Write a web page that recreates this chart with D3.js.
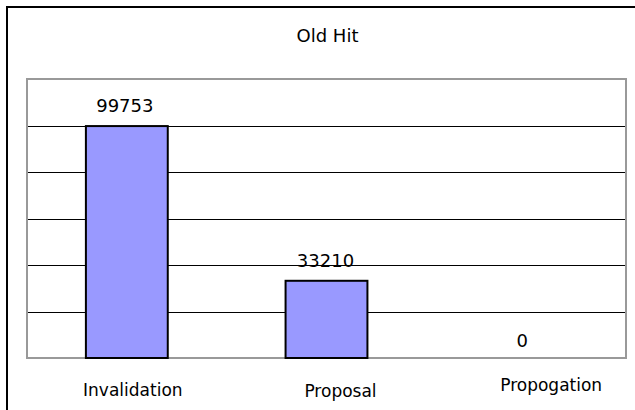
<!DOCTYPE html>
<html><head><meta charset="utf-8">
<script src="https://cdn.jsdelivr.net/npm/d3@7"></script>
<style>body{margin:0;background:#fff}svg{display:block}text{font-family:"DejaVu Sans",sans-serif;fill:#000}</style>
</head><body><svg id="c" width="635" height="410"></svg>
<script>
const categories = ["Invalidation", "Proposal", "Propogation"];
const values = [99753, 33210, 0];
const title = "Old Hit";
const yTicks = [0, 20000, 40000, 60000, 80000, 100000, 120000];

const svg = d3.select("#c");
const W = 635, H = 410;
const m = {left: 27, top: 79, right: 626, bottom: 358};

// outer frame
svg.append("path").attr("d", `M7,${H} V7 H${W}`).attr("fill","none").attr("stroke","#000").attr("stroke-width",2);

const x = d3.scaleBand().domain(categories).range([m.left, m.right]).paddingInner(0.59).paddingOuter(0.295);
const y = d3.scaleLinear().domain([0, 120000]).range([m.bottom, m.top]);

// gridlines
svg.append("g").selectAll("line").data(yTicks.slice(1, -1)).join("line")
  .attr("x1", m.left).attr("x2", m.right)
  .attr("y1", d => Math.round(y(d)) + 0.5).attr("y2", d => Math.round(y(d)) + 0.5)
  .attr("stroke", "#000").attr("stroke-width", 1);

// plot border
svg.append("rect").attr("x", m.left).attr("y", m.top).attr("width", m.right - m.left).attr("height", m.bottom - m.top)
  .attr("fill", "none").attr("stroke", "#999").attr("stroke-width", 2);

// bars
svg.append("g").selectAll("rect").data(values).join("rect")
  .attr("x", (d, i) => x(categories[i]))
  .attr("y", d => y(d))
  .attr("width", x.bandwidth())
  .attr("height", d => y(0) - y(d))
  .attr("fill", "#9999ff").attr("stroke", d => d > 0 ? "#000" : "none").attr("stroke-width", 2);

// value labels
const valDx = [-2, -1, -4];
svg.append("g").selectAll("text").data(values).join("text")
  .attr("x", (d, i) => x(categories[i]) + x.bandwidth() / 2 + valDx[i])
  .attr("y", d => y(d) - (d > 0 ? 14 : 11))
  .attr("text-anchor", "middle").style("font-size", "18px").text(d => d);

// category labels
const labelY = [396, 397, 391];
const labelDx = [6, 14, 25];
svg.append("g").selectAll("text").data(categories).join("text")
  .attr("x", (d, i) => x(d) + x.bandwidth() / 2 + labelDx[i])
  .attr("y", (d, i) => labelY[i])
  .attr("text-anchor", "middle").style("font-size", "17px").text(d => d);

svg.append("text").attr("x", 327.5).attr("y", 42).attr("text-anchor", "middle").style("font-size", "18px").text(title);
</script></body></html>
